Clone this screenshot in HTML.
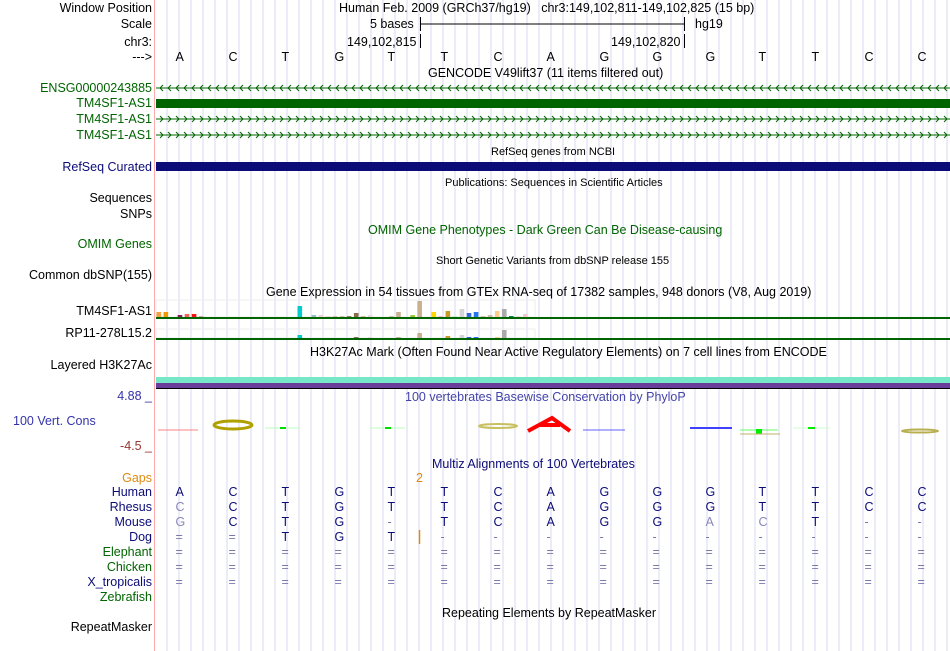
<!DOCTYPE html>
<html><head><meta charset="utf-8"><style>
body{margin:0;background:#fff;}
#root{position:relative;width:950px;height:651px;overflow:hidden;font-family:"Liberation Sans",sans-serif;font-size:12.5px;color:#000;}
.t{position:absolute;white-space:nowrap;line-height:14px;}
.l{position:absolute;right:798px;white-space:nowrap;line-height:14px;text-align:right;}
.s{font-size:11px;}
svg{position:absolute;left:0;top:0;}
</style></head><body>
<div id="root">
<svg id="g" width="950" height="651"></svg>

<div class="l" style="top:1px">Window Position</div>
<div class="l" style="top:17px">Scale</div>
<div class="l" style="top:35px">chr3:</div>
<div class="l" style="top:50px">---&gt;</div>
<div class="t" style="left:339px;top:1px">Human Feb. 2009 (GRCh37/hg19)&nbsp;&nbsp;&nbsp;chr3:149,102,811-149,102,825 (15 bp)</div>
<div class="t" style="left:370px;top:17px">5 bases</div>
<div class="t" style="left:695px;top:17px">hg19</div>
<div class="t" style="left:347px;top:35px">149,102,815</div>
<div class="t" style="left:611px;top:35px">149,102,820</div>
<div class="t" style="left:428px;top:66px">GENCODE V49lift37 (11 items filtered out)</div>

<div class="l" style="top:81px;color:#006400">ENSG00000243885</div>
<div class="l" style="top:96px;color:#006400">TM4SF1-AS1</div>
<div class="l" style="top:112px;color:#006400">TM4SF1-AS1</div>
<div class="l" style="top:128px;color:#006400">TM4SF1-AS1</div>
<div class="t s" style="left:491px;top:145px">RefSeq genes from NCBI</div>
<div class="l" style="top:160px;color:#0c0c78">RefSeq Curated</div>
<div class="t s" style="left:445px;top:176px">Publications: Sequences in Scientific Articles</div>
<div class="l" style="top:191px">Sequences</div>
<div class="l" style="top:207px">SNPs</div>
<div class="t" style="left:368px;top:223px;color:#006400">OMIM Gene Phenotypes - Dark Green Can Be Disease-causing</div>
<div class="l" style="top:237px;color:#006400">OMIM Genes</div>
<div class="t s" style="left:436px;top:254px">Short Genetic Variants from dbSNP release 155</div>
<div class="l" style="top:268px">Common dbSNP(155)</div>
<div class="t" style="left:266px;top:285px">Gene Expression in 54 tissues from GTEx RNA-seq of 17382 samples, 948 donors (V8, Aug 2019)</div>
<div class="l" style="top:304px">TM4SF1-AS1</div>
<div class="l" style="top:326px">RP11-278L15.2</div>
<div class="t" style="left:310px;top:345px">H3K27Ac Mark (Often Found Near Active Regulatory Elements) on 7 cell lines from ENCODE</div>
<div class="l" style="top:358px">Layered H3K27Ac</div>
<div class="l" style="top:389px;color:#3333aa">4.88 _</div>
<div class="t" style="left:405px;top:390px;color:#4444aa">100 vertebrates Basewise Conservation by PhyloP</div>
<div class="t" style="left:13px;top:414px;color:#3333aa">100 Vert. Cons</div>
<div class="l" style="top:439px;color:#993333">-4.5 _</div>
<div class="t" style="left:432px;top:457px;color:#0c0c78">Multiz Alignments of 100 Vertebrates</div>
<div class="l" style="top:471px;color:#e08a10">Gaps</div>
<div class="t" style="left:416px;top:471px;color:#e08a10">2</div>
<div class="t" style="left:442px;top:606px">Repeating Elements by RepeatMasker</div>
<div class="l" style="top:620px">RepeatMasker</div>
<div id="txt"></div>
</div>
<script>
const bases=["A","C","T","G","T","T","C","A","G","G","G","T","T","C","C"];
const species=["Human","Rhesus","Mouse","Dog","Elephant","Chicken","X_tropicalis","Zebrafish"];
const speciesColor=["#0c0c78","#0c0c78","#0c0c78","#0c0c78","#006400","#006400","#0c0c78","#006400"];
const alignRows=[
"ACTGTTCAGGGTTCC",
"cCTGTTCAGGGTTCC",
"gCTG-TCAGGacT--",
"==TGT---------",
"===============",
"===============",
"===============",
""];
const gtexA=[5,5,0,2,3,3,1,0,0,0,0,0,0,0,0,0,0,0,0,0,11,0,2,2,1,1,1,1,4,1,2,0,0,1,5,0,2,16,0,5,1,6,1,8,4,5,1,2,6,8,1,1,3,0];
const gtexB=[0,0,0,0,0,0,0,0,0,0,0,0,0,0,0,0,0,0,0,0,3,0,0,0,0,0,0,0,1,0,1,0,0,0,1,0,0,5,0,0,0,2,0,3,1,1,0,0,1,8,0,0,0,0];
const gtexColors=["#f4a040","#f09a00","#aaa","#8b1a5a","#ee6655","#ff1010","#c8b090","#eec","#ddd","#ccc","#ddd","#ccc","#ddd","#ccc","#ddd","#ccc","#ddd","#ccc","#ddd","#ccc","#00cccc","#ccc","#99bbcc","#f0d0d8","#f0d8e0","#d8c0a0","#d8c0a0","#a08060","#8b6c48","#d8b8a0","#f0d8e0","#ccc","#ccc","#d8c0a0","#c8b090","#ccc","#99cc33","#c8b090","#ccc","#ffd700","#ffb6c1","#cc9922","#bbeebb","#d4d4d4","#3366dd","#2277ee","#d8c0a0","#d8b8a0","#ffcc88","#aaaaaa","#008844","#f0d8e0","#f0c8d0","#ccc"];

const NS="http://www.w3.org/2000/svg";
const g=document.getElementById('g');
function mk(tag,attrs,name){const e=document.createElementNS(NS,tag);for(const k in attrs)e.setAttribute(k,attrs[k]);


g.appendChild(e);return e;}
const x0=155,bw=(950-155)/15;
const bx=i=>x0+bw*i+bw/2;
for(let x=167;x<950;x+=12)mk('line',{x1:x,y1:0,x2:x,y2:651,stroke:'#d8d8f2','stroke-width':1},'gridline');
mk('line',{x1:154.5,y1:0,x2:154.5,y2:651,stroke:'#ffaaaa','stroke-width':1},'window-left-border');
mk('line',{x1:420,y1:24,x2:684,y2:24,stroke:'#000'},'scale-bar');
mk('line',{x1:420.5,y1:17,x2:420.5,y2:31,stroke:'#000'},'scale-tick-left');
mk('line',{x1:684.5,y1:17,x2:684.5,y2:31,stroke:'#000'},'scale-tick-right');
mk('line',{x1:420.5,y1:34,x2:420.5,y2:48,stroke:'#000'},'pos-tick-815');
mk('line',{x1:684.5,y1:34,x2:684.5,y2:48,stroke:'#000'},'pos-tick-820');
function arrowLine(y,dir,name){mk('line',{x1:156,y1:y,x2:950,y2:y,stroke:'#006400'},name);
let d='';for(let x=160;x<950;x+=8){d+=dir<0?`M${x+3},${y-3}L${x},${y}L${x+3},${y+3}`:`M${x},${y-3}L${x+3},${y}L${x},${y+3}`;}
mk('path',{d:d,stroke:'#006400',fill:'none','stroke-width':1},name+'-chevrons');}
arrowLine(88,-1,'ensg-gene');
mk('rect',{x:156,y:99,width:794,height:9,fill:'#006400'},'tm4sf1-as1-exon');
arrowLine(119,1,'tm4sf1-as1-gene-2');
arrowLine(135,1,'tm4sf1-as1-gene-3');
mk('rect',{x:156,y:162,width:794,height:9,fill:'#0c0c78'},'refseq-exon');
function gtex(vals,base,boxTop,name){
mk('rect',{x:156,y:boxTop,width:379,height:base-boxTop,fill:'none',stroke:'#eee'},name+'-box');
vals.forEach((v,i)=>{if(v>0)mk('rect',{x:156.5+7.05*i,y:base-v,width:4.6,height:v,fill:gtexColors[i]},name+'-bar');});
mk('rect',{x:156,y:base,width:794,height:2,fill:'#006400'},name+'-baseline');}
gtex(gtexA,317,300,'gtex-tm4sf1');
gtex(gtexB,338,329,'gtex-rp11');
mk('rect',{x:156,y:377,width:794,height:6,fill:'#76e8c8'},'h3k27ac-teal');
mk('rect',{x:156,y:383,width:794,height:5,fill:'#6a3d9a'},'h3k27ac-purple');
mk('rect',{x:156,y:388,width:794,height:1,fill:'#000'},'h3k27ac-line');
mk('line',{x1:158,y1:430,x2:198,y2:430,stroke:'#ff8080'},'cons-A');
mk('ellipse',{cx:233,cy:425,rx:19,ry:4,fill:'none',stroke:'#b0a000','stroke-width':3},'cons-C');
mk('line',{x1:265,y1:428,x2:300,y2:428,stroke:'#bbffbb'},'cons-T');
mk('rect',{x:280,y:427,width:6,height:2,fill:'#00dd00'},'cons-T-mark');
mk('line',{x1:370,y1:428,x2:405,y2:428,stroke:'#bbffbb'},'cons-T2');
mk('rect',{x:385,y:427,width:6,height:2,fill:'#00dd00'},'cons-T2-mark');
mk('ellipse',{cx:498,cy:426,rx:19,ry:2,fill:'none',stroke:'#c8c060','stroke-width':2},'cons-C2');
mk('path',{d:'M528,431L552,418L570,431M540,425L560,425',stroke:'#ff0000',fill:'none','stroke-width':4},'cons-A2');
mk('line',{x1:583,y1:430,x2:625,y2:430,stroke:'#6060ff'},'cons-G');
mk('line',{x1:690,y1:428,x2:732,y2:428,stroke:'#4040ff','stroke-width':2},'cons-G2');
mk('line',{x1:740,y1:430,x2:778,y2:430,stroke:'#66ff66'},'cons-T3');
mk('rect',{x:756,y:429,width:6,height:5,fill:'#00ee00'},'cons-T3-mark');
mk('line',{x1:740,y1:434,x2:780,y2:434,stroke:'#c0b060'},'cons-C3');
mk('line',{x1:793,y1:428,x2:830,y2:428,stroke:'#ccffcc'},'cons-T4');
mk('rect',{x:808,y:427,width:7,height:2,fill:'#00ee00'},'cons-T4-mark');
mk('ellipse',{cx:920,cy:431,rx:18,ry:1.5,fill:'none',stroke:'#b8b050','stroke-width':2},'cons-C4');
mk('line',{x1:419.5,y1:530,x2:419.5,y2:544,stroke:'#e08a10','stroke-width':1.5},'dog-gap-mark');
const txt=document.getElementById('txt');
function T(x,y,s,c,name,inter){const d=document.createElement('div');d.className='t';d.textContent=s;
d.style.left=(x-6)+'px';d.style.top=y+'px';d.style.color=c;


txt.appendChild(d);}
bases.forEach((b,i)=>T(bx(i),50,b,'#000','base-letter',false));
species.forEach((s,r)=>{const d=document.createElement('div');d.className='l';d.textContent=s;d.style.top=(485+r*15)+'px';d.style.color=speciesColor[r];


txt.appendChild(d);
const row=alignRows[r];for(let i=0;i<15;i++){let ch=row[i]||'-';if(r==3&&i>=5)ch='-';if(!row)continue;
let col='#0c0c78';if(ch==='='||ch==='-'){col='#7a7aaa';}else if(ch===ch.toLowerCase()){col='#8888bb';ch=ch.toUpperCase();}
T(bx(i),485+r*15,ch,col,'alignment-base',false);}});
</script>
</body></html>
